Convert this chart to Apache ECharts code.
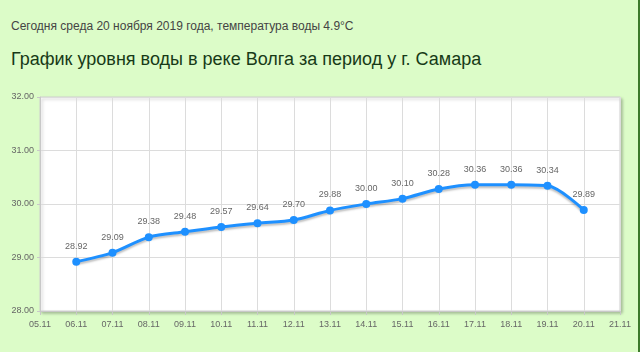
<!DOCTYPE html>
<html>
<head>
<meta charset="utf-8">
<script src="https://cdn.jsdelivr.net/npm/echarts@6/dist/echarts.min.js"></script>
<style>
  html, body { margin: 0; padding: 0; }
  body { background: #dcfcc8; width: 640px; height: 352px; overflow: hidden; position: relative; font-family: 'Liberation Sans', Arial, sans-serif; }
  .edge { position: absolute; right: 0; top: 0; width: 2px; height: 352px; background: #3d7a2c; }
  .sub { position: absolute; left: 11px; top: 19px; font-size: 12px; color: #444; }
  .head { position: absolute; left: 11px; top: 49px; font-size: 18px; color: #173a17; }
  #chart { position: absolute; left: 0; top: 80px; width: 640px; height: 272px; }
</style>
</head>
<body>
<div class="edge"></div>
<div class="sub">Сегодня среда 20 ноября 2019 года, температура воды 4.9°C</div>
<div class="head">График уровня воды в реке Волга за период у г. Самара</div>
<div id="chart"></div>
<script>
const days = ['05.11','06.11','07.11','08.11','09.11','10.11','11.11','12.11','13.11','14.11','15.11','16.11','17.11','18.11','19.11','20.11','21.11']
const level = [null, 28.92, 29.09, 29.38, 29.48, 29.57, 29.64, 29.70, 29.88, 30.00, 30.10, 30.28, 30.36, 30.36, 30.34, 29.89, null]

const chart = echarts.init(document.getElementById('chart'))
const option = {
  animation: false,
  grid: {
    left: 40,
    right: 20,
    top: 17,
    bottom: 41,
    show: true,
    backgroundColor: '#fff',
    borderColor: '#d0d0d0',
    borderWidth: 1,
    shadowColor: 'rgba(0,0,0,0.25)',
    shadowBlur: 3,
    shadowOffsetX: 2,
    shadowOffsetY: 2
  },
  xAxis: {
    type: 'category',
    data: days,
    boundaryGap: false,
    axisLine: { lineStyle: { color: '#c8c8c8' } },
    axisTick: { length: 4, lineStyle: { color: '#c8c8c8' } },
    axisLabel: { interval: 0, color: '#666', fontSize: 9, margin: 9, fontFamily: 'Liberation Sans' },
    splitLine: { show: true, lineStyle: { color: '#dcdcdc' } }
  },
  yAxis: {
    type: 'value',
    min: 28,
    max: 32,
    interval: 1,
    axisLine: { show: true, lineStyle: { color: '#c8c8c8' } },
    axisTick: { show: true, length: 3, lineStyle: { color: '#c8c8c8' } },
    axisLabel: { color: '#666', fontSize: 9, margin: 6, fontFamily: 'Liberation Sans', formatter: v => v.toFixed(2) },
    splitLine: { lineStyle: { color: '#dcdcdc' } }
  },
  series: [{
    type: 'line',
    data: level,
    smooth: 0.3,
    symbol: 'circle',
    symbolSize: 8,
    itemStyle: { color: '#1e90ff' },
    lineStyle: {
      width: 3,
      color: '#1e90ff',
      shadowColor: 'rgba(0,0,0,0.25)',
      shadowBlur: 2,
      shadowOffsetY: 2
    },
    label: {
      show: true,
      position: 'top',
      distance: 7,
      color: '#666',
      fontSize: 9,
      fontFamily: 'Liberation Sans',
      formatter: p => p.value.toFixed(2)
    }
  }]
}
chart.setOption(option)
</script>
</body>
</html>
